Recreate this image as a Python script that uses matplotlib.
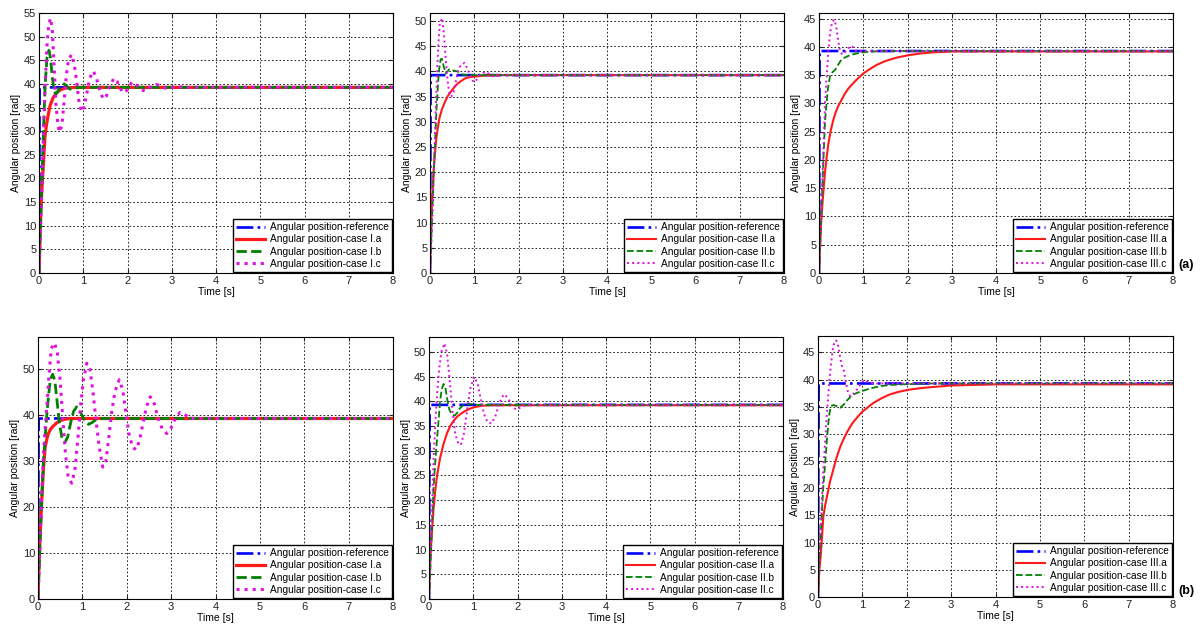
import matplotlib
matplotlib.use("Agg")
import matplotlib.pyplot as plt
import numpy as np

plt.rcParams['font.family'] = ['Liberation Sans', 'DejaVu Sans']

# reference step (same in every panel)
t_ref = [0, 0.015, 8]
y_ref = [0, 39.27, 39.27]

# ---- (a) case I ----
t_1a = [0, 0.02, 0.045, 0.07, 0.1, 0.135, 0.17, 0.21, 0.25, 0.32, 0.4, 0.47, 0.59, 0.8, 8]
y_1a = [0, 7, 13.9, 18.5, 23.2, 28.9, 31.4, 33.5, 35.4, 37.1, 38.1, 38.7, 39.1, 39.27, 39.27]
t_1b = [0, 0.03, 0.06, 0.1, 0.14, 0.18, 0.225, 0.26, 0.3, 0.34, 0.376, 0.42, 0.47, 0.52, 0.57,
        0.63, 0.7, 0.8, 0.9, 8]
y_1b = [0, 9, 18, 30, 40, 45.5, 47.1, 45.5, 41.5, 38.5, 37.9, 38.3, 39.2, 39.8, 40.0,
        39.5, 38.9, 39.0, 39.27, 39.27]
t_1c = [0, 0.03, 0.06, 0.1, 0.14, 0.18, 0.22, 0.26, 0.30, 0.34, 0.38, 0.43, 0.47, 0.52, 0.57,
        0.62, 0.67, 0.74, 0.80, 0.85, 0.90, 0.96, 1.02, 1.08, 1.15, 1.23, 1.30, 1.36, 1.45, 1.52,
        1.58, 1.69, 1.76, 1.83, 1.90, 1.98, 2.1, 2.22, 2.3, 2.39, 2.5, 2.65, 2.77, 2.88, 3.0,
        3.1, 3.3, 3.5, 8]
y_1c = [0, 8, 17, 29, 40, 48, 52.5, 53.9, 51.5, 44, 36, 31, 29.8, 31.5, 36.5,
        42, 45.3, 46.2, 44, 40.5, 36.5, 34.1, 35.2, 38, 41.3, 42.7, 41.2, 39, 36.8, 37.4,
        39, 41.2, 40.6, 39.2, 38.1, 38.6, 40.4, 39.6, 38.8, 38.5, 39.2, 39.9, 39.5, 39.0, 39.2,
        39.5, 39.2, 39.27, 39.27]

# ---- (a) case II ----
t_2a = [0, 0.02, 0.04, 0.077, 0.11, 0.14, 0.18, 0.215, 0.27, 0.33, 0.4, 0.48, 0.56, 0.64, 0.72,
        0.79, 0.9, 1.02, 1.25, 1.5, 8]
y_2a = [0, 7, 13, 19.8, 23.5, 26.5, 29, 30.8, 32.5, 33.8, 35.1, 36.1, 37.0, 37.7, 38.2,
        38.6, 38.9, 39.0, 39.2, 39.27, 39.27]
t_2b = [0, 0.03, 0.05, 0.1, 0.15, 0.2, 0.24, 0.27, 0.31, 0.36, 0.43, 0.52, 0.62, 0.73, 0.85, 8]
y_2b = [0, 7, 12, 23, 33, 40, 42.4, 42.5, 41, 39.6, 40.4, 40.2, 40.0, 39.4, 39.27, 39.27]
t_2c = [0, 0.03, 0.06, 0.1, 0.14, 0.18, 0.22, 0.27, 0.31, 0.35, 0.4, 0.44, 0.48, 0.53, 0.58,
        0.64, 0.7, 0.78, 0.85, 0.9, 0.98, 1.05, 1.12, 1.24, 1.32, 1.45, 1.6, 1.8, 8]
y_2c = [0, 6, 13, 24, 35, 44, 49.5, 50.6, 48, 43, 38, 35.5, 35, 35.8, 37.8,
        40.3, 41.3, 41.7, 40.5, 39.3, 37.9, 38.3, 39.2, 39.9, 39.6, 38.9, 39.3, 39.27, 39.27]

# ---- (a) case III ----
t_3a = [0, 0.02, 0.05, 0.075, 0.1, 0.135, 0.17, 0.21, 0.26, 0.32, 0.38, 0.44, 0.5, 0.59, 0.67,
        0.74, 0.85, 1.0, 1.15, 1.3, 1.5, 1.75, 2.0, 2.3, 2.6, 3.0, 8]
y_3a = [0, 4, 9, 12, 14.5, 17.8, 20.3, 22.8, 25, 27, 28.5, 29.6, 30.5, 31.8, 32.7,
        33.3, 34.2, 35.3, 36.1, 36.8, 37.5, 38.1, 38.5, 38.85, 39.05, 39.2, 39.2]
t_3b = [0, 0.03, 0.06, 0.1, 0.135, 0.17, 0.2, 0.25, 0.3, 0.36, 0.43, 0.51, 0.58, 0.66, 0.77,
        0.89, 1.05, 1.26, 1.5, 8]
y_3b = [0, 6, 12, 20, 26.7, 30, 32.5, 34.9, 35.5, 35.9, 36.8, 37.8, 38.1, 38.4, 38.7,
        38.9, 39.1, 39.2, 39.27, 39.27]
t_3c = [0, 0.03, 0.06, 0.1, 0.135, 0.17, 0.21, 0.25, 0.3, 0.35, 0.39, 0.43, 0.47, 0.51, 0.55,
        0.62, 0.72, 0.8, 0.85, 0.95, 1.1, 8]
y_3c = [0, 6, 13, 22, 29.6, 34.5, 39, 42.5, 44.5, 44.8, 43.5, 41.3, 39.5, 38.8, 38.7,
        39.4, 40.2, 39.8, 39.2, 39.3, 39.27, 39.27]

# ---- (b) case I ----
t_4a = [0, 0.02, 0.045, 0.08, 0.12, 0.16, 0.2, 0.23, 0.28, 0.35, 0.42, 0.5, 0.6, 0.72, 8]
y_4a = [0, 7, 13.5, 20.7, 28, 33, 34.8, 35.9, 36.9, 37.7, 38.3, 38.8, 39.1, 39.27, 39.27]
t_4b = [0, 0.03, 0.06, 0.09, 0.12, 0.16, 0.2, 0.24, 0.28, 0.33, 0.38, 0.43, 0.48, 0.54, 0.61,
        0.67, 0.74, 0.8, 0.87, 0.93, 1.0, 1.07, 1.14, 1.22, 1.32, 1.45, 8]
y_4b = [0, 8, 16, 23, 29.4, 35, 40.2, 44.5, 47.8, 48.9, 47.5, 43, 38.5, 35, 34.1,
        35.3, 38.5, 40.8, 41.8, 41.2, 39.8, 38.5, 38, 38.4, 39.1, 39.27, 39.27]
t_4c = [0, 0.03, 0.06, 0.09, 0.12, 0.16, 0.2, 0.25, 0.3, 0.37, 0.43, 0.5, 0.56, 0.62, 0.68,
        0.76, 0.83, 0.9, 0.96, 1.02, 1.1, 1.17, 1.24, 1.3, 1.38, 1.46, 1.53, 1.6, 1.66, 1.73,
        1.83, 1.91, 1.98, 2.05, 2.13, 2.21, 2.29, 2.37, 2.45, 2.53, 2.62, 2.7, 2.8, 2.9, 3.0,
        3.08, 3.2, 3.3, 3.42, 3.6, 8]
y_4c = [0, 8, 16, 24, 31, 37, 42, 49, 54.5, 55.7, 54, 47.5, 39, 31.5, 26.5,
        25.2, 28, 35, 42, 47.5, 51.3, 50, 45, 39.5, 33, 28.7, 30, 35.5, 40.5, 45,
        47.7, 45.5, 40.5, 36, 33, 32.5, 34.5, 38.5, 42, 44, 42.5, 39.5, 37, 36, 37.2,
        39, 40.6, 40.2, 39.3, 39.27, 39.27]

# ---- (b) case II ----
t_5a = [0, 0.02, 0.06, 0.1, 0.14, 0.18, 0.25, 0.33, 0.41, 0.48, 0.56, 0.65, 0.79, 0.9, 1.02,
        1.2, 1.41, 8]
y_5a = [0, 7, 12.6, 18, 21.8, 24.8, 28.5, 31.4, 33.6, 35, 36.1, 37, 37.9, 38.4, 38.8,
        39.1, 39.2, 39.2]
t_5b = [0, 0.03, 0.06, 0.1, 0.14, 0.18, 0.22, 0.25, 0.29, 0.33, 0.37, 0.41, 0.46, 0.52, 0.58,
        0.64, 0.7, 0.79, 0.9, 1.0, 8]
y_5b = [0, 6, 13, 22, 27.5, 32.2, 36.5, 40, 42.5, 43.5, 42.8, 40.5, 38.3, 37.3, 37.1,
        37.7, 38.6, 39.3, 39.5, 39.27, 39.27]
t_5c = [0, 0.03, 0.06, 0.1, 0.14, 0.18, 0.23, 0.28, 0.35, 0.41, 0.47, 0.53, 0.59, 0.66, 0.72,
        0.79, 0.86, 0.93, 1.02, 1.1, 1.17, 1.24, 1.32, 1.41, 1.5, 1.58, 1.69, 1.77, 1.85, 1.92,
        1.98, 2.08, 2.18, 2.3, 8]
y_5c = [0, 7, 15, 27.5, 35, 41, 46.5, 50, 51.7, 49.5, 44, 38, 33.5, 31.5, 31.2,
        33.5, 38, 42.5, 44.9, 43.5, 40.5, 37.5, 35.8, 35.5, 37, 39.5, 41.4, 40.8, 39.5, 38.6,
        38.3, 38.8, 39.2, 39.27, 39.27]

# ---- (b) case III ----
t_6a = [0, 0.03, 0.06, 0.09, 0.12, 0.16, 0.2, 0.27, 0.35, 0.42, 0.5, 0.58, 0.66, 0.77, 0.89,
        1.0, 1.11, 1.25, 1.42, 1.6, 1.8, 2.03, 2.3, 2.56, 3.02, 4, 8]
y_6a = [0, 5, 7.4, 11, 14.8, 16.8, 18.4, 21.2, 23.6, 25.7, 27.6, 29.1, 30.4, 31.9, 33.1,
        34.1, 34.8, 35.7, 36.5, 37.2, 37.7, 38.1, 38.4, 38.6, 38.9, 39.1, 39.1]
t_6b = [0, 0.03, 0.06, 0.09, 0.12, 0.16, 0.2, 0.24, 0.27, 0.31, 0.35, 0.42, 0.5, 0.58, 0.66,
        0.73, 0.81, 0.9, 1.0, 1.2, 1.42, 1.65, 1.88, 2.5, 8]
y_6b = [0, 6, 11, 16, 20.3, 24.5, 28.8, 32.5, 34.4, 35.2, 35.3, 35.1, 34.8, 35.4, 36.2,
        36.8, 37.3, 37.6, 37.9, 38.4, 38.8, 39.0, 39.1, 39.27, 39.27]
t_6c = [0, 0.03, 0.06, 0.09, 0.12, 0.16, 0.2, 0.24, 0.27, 0.31, 0.34, 0.38, 0.41, 0.45, 0.5,
        0.54, 0.58, 0.63, 0.68, 0.73, 0.8, 0.89, 0.96, 1.04, 1.11, 1.19, 1.3, 8]
y_6c = [0, 7, 12, 18, 23.3, 28.5, 33.7, 38, 41.1, 44, 46, 47, 47.2, 46.3, 44,
        42.5, 41.7, 39.5, 37.5, 36.9, 37.4, 38.3, 39.2, 39.9, 39.6, 39.4, 39.27, 39.27]

case_names = ['I', 'II', 'III', 'I', 'II', 'III']
ylims = [55, 51.6, 46, 57, 53, 48]
ysteps = [5, 5, 5, 10, 5, 5]
curves = [
    (t_1a, y_1a, t_1b, y_1b, t_1c, y_1c),
    (t_2a, y_2a, t_2b, y_2b, t_2c, y_2c),
    (t_3a, y_3a, t_3b, y_3b, t_3c, y_3c),
    (t_4a, y_4a, t_4b, y_4b, t_4c, y_4c),
    (t_5a, y_5a, t_5b, y_5b, t_5c, y_5c),
    (t_6a, y_6a, t_6b, y_6b, t_6c, y_6c),
]

# axes boxes in pixels: left, top, right, bottom
boxes = [
    (39, 13, 393, 273), (430, 13, 784, 273), (819, 13, 1173, 273),
    (38, 337, 393, 599), (429, 337, 783, 599), (818, 336, 1173, 597),
]

W, H = 1200, 625
fig = plt.figure(figsize=(12, 6.25), dpi=100)

for k in range(6):
    l, t, r, b = boxes[k]
    ax = fig.add_axes([l / W, 1 - b / H, (r - l) / W, (b - t) / H])
    ta, ya, tb, yb, tc, yc = curves[k]
    thick = case_names[k] == 'I'
    lw_a = 2.3 if thick else 1.5
    lw_b = 2.0 if thick else 1.3
    lw_c = 2.2 if thick else 1.4
    ax.plot(t_ref, y_ref, color='#0000ff', ls='-.', lw=1.9,
            label='Angular position-reference')
    ax.plot(ta, ya, color='#ff1a1a', ls='-', lw=lw_a,
            label='Angular position-case %s.a' % case_names[k])
    ax.plot(tb, yb, color='#008000', ls='--', lw=lw_b,
            label='Angular position-case %s.b' % case_names[k])
    ax.plot(tc, yc, color='#e010e0', ls=':', lw=lw_c,
            label='Angular position-case %s.c' % case_names[k])

    ax.set_xlim(0, 8)
    ax.set_ylim(0, ylims[k])
    ax.set_xticks(np.arange(0, 9, 1))
    ax.set_yticks(np.arange(0, ylims[k] + 0.01, ysteps[k]))
    ax.grid(True, color='black', ls=(0, (2, 2.5)), lw=0.6)
    ax.tick_params(direction='in', length=3, labelsize=8, pad=2,
                   top=True, right=True, colors='#222222')
    for sp in ax.spines.values():
        sp.set_linewidth(0.8)
    ax.set_xlabel('Time [s]', fontsize=7.5, labelpad=1)
    ax.set_ylabel('Angular position [rad]', fontsize=7.5, labelpad=2)

    leg = ax.legend(loc='lower right', fontsize=7.3, fancybox=False, framealpha=1,
                    edgecolor='black', borderaxespad=0.1, handlelength=2.9,
                    handletextpad=0.5, labelspacing=0.22, borderpad=0.3)
    leg.get_frame().set_linewidth(1.0)

fig.text(1186 / W, 1 - 265 / H, '(a)', fontsize=9, fontweight='bold',
         ha='center', va='center')
fig.text(1186 / W, 1 - 591 / H, '(b)', fontsize=9, fontweight='bold',
         ha='center', va='center')

fig.savefig('out.png', dpi=100)
